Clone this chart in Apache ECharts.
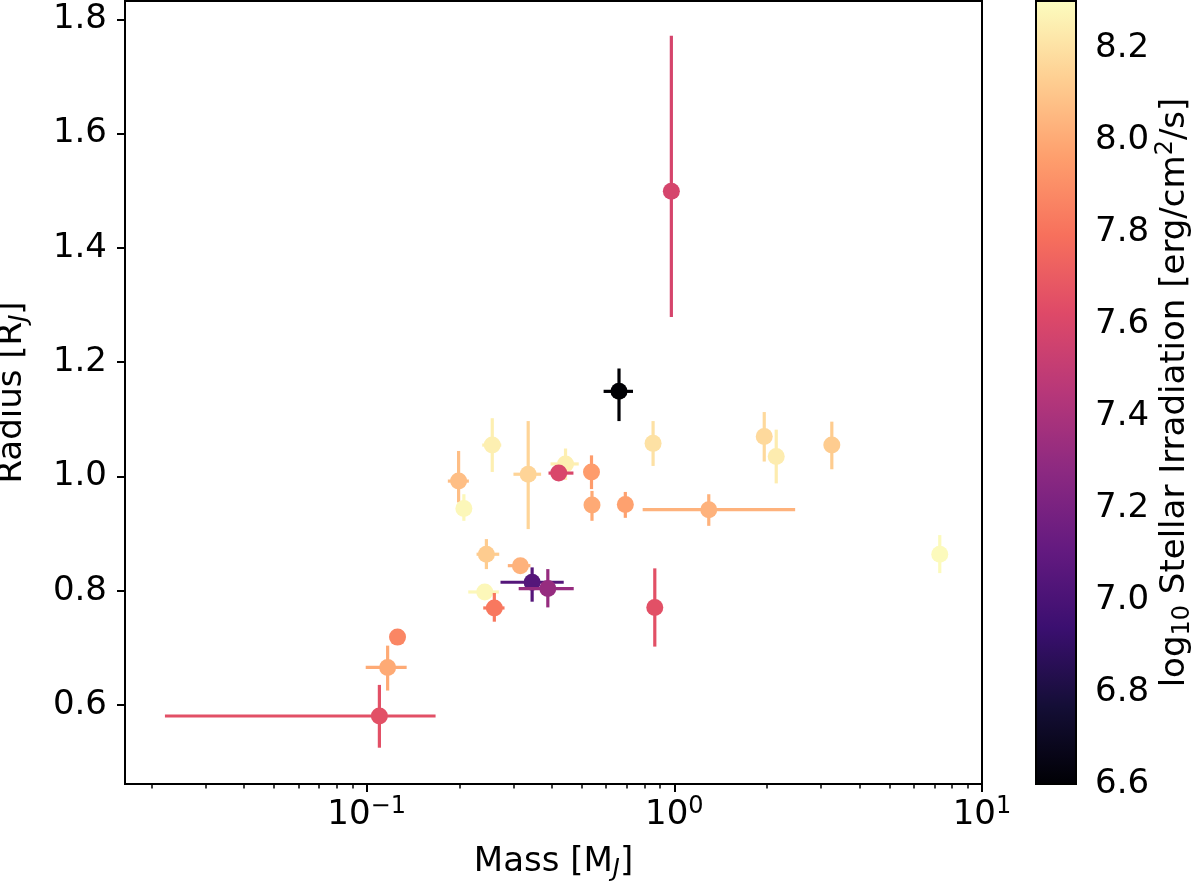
<!DOCTYPE html>
<html><head><meta charset="utf-8">
<script src="https://cdn.jsdelivr.net/npm/echarts@6/dist/echarts.min.js"></script>
<style>html,body{margin:0;padding:0;background:#fff}#c{width:1200px;height:886px}</style>
</head><body><div id="c"></div>
<script>
// ---- data ----
const mass        = [0.110, 0.117, 0.126, 0.199, 0.207, 0.245, 0.242, 0.256, 0.260, 0.316, 0.335, 0.345, 0.388, 0.443, 0.421, 0.538, 0.540, 0.693, 0.661, 0.853, 0.864, 0.978, 1.294, 1.96, 2.144, 3.25, 7.29];
const massLow     = [0.0221, 0.0993, null, 0.1836, null, 0.2276, 0.2139, 0.2375, 0.2393, 0.2876, 0.300, 0.2723, 0.312, 0.396, 0.390, null, null, null, 0.589, null, null, null, 0.789, null, null, null, null];
const massHigh    = [0.1675, 0.1349, null, 0.2149, null, 0.2697, 0.2689, 0.2738, 0.2806, 0.3406, 0.369, 0.437, 0.471, 0.489, 0.470, null, null, null, 0.734, null, null, null, 2.47, null, null, null, null];
const radius      = [0.581, 0.666, 0.719, 0.992, 0.944, 0.864, 0.798, 1.055, 0.770, 0.844, 1.004, 0.815, 0.804, 1.022, 1.006, 1.008, 0.950, 0.951, 1.149, 1.058, 0.771, 1.499, 0.942, 1.070, 1.035, 1.055, 0.864];
const radiusLow   = [0.5255, 0.6255, null, 0.9546, 0.9225, 0.838, null, 1.008, 0.746, null, 0.908, 0.781, 0.771, 0.994, null, 0.978, 0.9225, 0.9277, 1.097, 1.0185, 0.7024, 1.279, 0.9137, 1.0262, 0.988, 1.0127, 0.831];
const radiusHigh  = [0.6354, 0.7041, null, 1.0447, 0.969, 0.8905, null, 1.102, 0.7962, null, 1.097, 0.841, 0.838, 1.049, null, 1.037, 0.9748, 0.973, 1.189, 1.097, 0.8393, 1.771, 0.969, 1.1128, 1.082, 1.096, 0.8975];
const irradiation = [7.65, 8.00, 7.87, 8.07, 8.28, 8.12, 8.28, 8.25, 7.82, 8.03, 8.15, 7.05, 7.32, 8.25, 7.60, 7.95, 8.00, 7.97, 6.60, 8.20, 7.65, 7.58, 8.03, 8.17, 8.24, 8.12, 8.29];

const xTicks      = [0.1, 1, 10];
const xMinorTicks = [0.02,0.03,0.04,0.05,0.06,0.07,0.08,0.09,0.2,0.3,0.4,0.5,0.6,0.7,0.8,0.9,2,3,4,5,6,7,8,9];
const yTicks      = [0.6, 0.8, 1.0, 1.2, 1.4, 1.6, 1.8];
const cbarTicks   = [6.6, 6.8, 7.0, 7.2, 7.4, 7.6, 7.8, 8.0, 8.2];
const xRange      = [0.01639, 10];
const yRange      = [0.462, 1.832];
const cbarRange   = [6.6, 8.302];

const magma = ['#000004','#140e36','#3b0f70','#641a80','#8c2981','#b73779','#de4968','#f7705c','#fe9f6d','#fecf92','#fcfdbf'];

// ---- chart ----
const FONT = 'DejaVu Sans';
const rows = mass.map((m, i) => [m, radius[i], massLow[i], massHigh[i], radiusLow[i], radiusHigh[i], irradiation[i]]);

const rich = {
  m:   {fontFamily: FONT, fontSize: 34, color: '#000', lineHeight: 40, verticalAlign: 'middle'},
  b:   {fontFamily: FONT, fontSize: 34, color: '#000', lineHeight: 36, verticalAlign: 'bottom'},
  sup: {fontFamily: FONT, fontSize: 24, color: '#000', height: 22, verticalAlign: 'top'},
  sub: {fontFamily: FONT, fontSize: 24, color: '#000', height: 24, verticalAlign: 'bottom'},
  subi:{fontFamily: FONT, fontSize: 24, color: '#000', height: 24, verticalAlign: 'bottom', fontStyle: 'italic'}
};

function ok(v) { return v !== null && v !== undefined && isFinite(v); }

function renderPoint(params, api) {
  const x = api.value(0), y = api.value(1);
  const xl = api.value(2), xh = api.value(3), yl = api.value(4), yh = api.value(5);
  const c = api.visual('color');
  const ch = [];
  if (ok(xl) && ok(xh)) {
    const a = api.coord([xl, y]), b = api.coord([xh, y]);
    ch.push({type: 'line', shape: {x1: a[0], y1: a[1], x2: b[0], y2: b[1]}, style: {stroke: c, lineWidth: 3.2}});
  }
  if (ok(yl) && ok(yh)) {
    const a = api.coord([x, yl]), b = api.coord([x, yh]);
    ch.push({type: 'line', shape: {x1: a[0], y1: a[1], x2: b[0], y2: b[1]}, style: {stroke: c, lineWidth: 3.2}});
  }
  const p = api.coord([x, y]);
  ch.push({type: 'circle', shape: {cx: p[0], cy: p[1], r: 8.5}, style: {fill: c}});
  return {type: 'group', children: ch};
}

function renderCbar(params, api) {
  const a = api.coord([api.value(0), api.value(1)]);
  const b = api.coord([api.value(2), api.value(3)]);
  const stops = magma.map((col, i) => ({offset: i / (magma.length - 1), color: col}));
  return {
    type: 'rect',
    shape: {x: Math.min(a[0], b[0]), y: Math.min(a[1], b[1]), width: Math.abs(b[0] - a[0]), height: Math.abs(b[1] - a[1])},
    style: {fill: new echarts.graphic.LinearGradient(0, 1, 0, 0, stops), stroke: '#000', lineWidth: 2}
  };
}

const supFmt = v => {
  const e = Math.round(Math.log10(v));
  return '{b|10}{sup|' + (e < 0 ? '\u2212' : '') + Math.abs(e) + '}';
};

const option = {
  animation: false,
  backgroundColor: '#fff',
  grid: [
    {left: 125, top: 1, width: 857, height: 783, show: true, borderColor: '#000', borderWidth: 2, containLabel: false, outerBoundsMode: 'none'},
    {left: 1036, top: 1, width: 40, height: 783, containLabel: false, outerBoundsMode: 'none'}
  ],
  visualMap: {
    type: 'continuous', show: false, min: cbarRange[0], max: cbarRange[1], dimension: 6, seriesIndex: 0,
    inRange: {color: magma}
  },
  xAxis: [
    {
      type: 'log', logBase: 10, gridIndex: 0, min: xRange[0], max: xRange[1], position: 'bottom',
      name: '{m|Mass [M}{subi|J}{m|]}', nameLocation: 'middle', nameGap: 58, nameMoveOverlap: false,
      nameTextStyle: {rich: rich},
      axisLine: {show: true, lineStyle: {color: '#000', width: 2}},
      axisTick: {show: true, length: 8, lineStyle: {color: '#000', width: 2}, customValues: xTicks},
      axisLabel: {show: true, customValues: xTicks, formatter: supFmt, margin: 12, rich: rich},
      splitLine: {show: false}, minorTick: {show: false}
    },
    {
      type: 'log', logBase: 10, gridIndex: 0, min: xRange[0], max: xRange[1], position: 'bottom',
      axisLine: {show: false},
      axisTick: {show: true, length: 4.5, lineStyle: {color: '#000', width: 1.5}, customValues: xMinorTicks},
      axisLabel: {show: false},
      splitLine: {show: false}
    },
    {type: 'value', gridIndex: 1, min: 0, max: 1, show: false}
  ],
  yAxis: [
    {
      type: 'value', gridIndex: 0, min: yRange[0], max: yRange[1],
      name: '{m|Radius [R}{subi|J}{m|]}', nameLocation: 'middle', nameGap: 93, nameRotate: 90, nameMoveOverlap: false,
      nameTextStyle: {rich: rich},
      axisLine: {show: true, lineStyle: {color: '#000', width: 2}},
      axisTick: {show: true, length: 8, lineStyle: {color: '#000', width: 2}, customValues: yTicks},
      axisLabel: {show: true, customValues: yTicks, formatter: v => v.toFixed(1), margin: 18,
                  fontFamily: FONT, fontSize: 34, color: '#000'},
      splitLine: {show: false}
    },
    {
      type: 'value', gridIndex: 1, position: 'right', min: cbarRange[0], max: cbarRange[1],
      name: '{m|log}{sub|10}{m| Stellar Irradiation [erg/cm}{sup|2}{m|/s]}', nameLocation: 'middle', nameGap: 79, nameRotate: 90, nameMoveOverlap: false,
      nameTextStyle: {rich: rich},
      axisLine: {show: false},
      axisTick: {show: true, length: 8, lineStyle: {color: '#000', width: 2}, customValues: cbarTicks},
      axisLabel: {show: true, customValues: cbarTicks, formatter: v => v.toFixed(1), margin: 19,
                  fontFamily: FONT, fontSize: 34, color: '#000'},
      splitLine: {show: false}
    }
  ],
  series: [
    {
      type: 'custom', xAxisIndex: 0, yAxisIndex: 0, renderItem: renderPoint, data: rows,
      encode: {x: 0, y: 1}, clip: true
    },
    {
      type: 'custom', xAxisIndex: 2, yAxisIndex: 1, renderItem: renderCbar,
      data: [[0, cbarRange[0], 1, cbarRange[1]]], encode: {x: [0, 2], y: [1, 3]}, silent: true
    }
  ]
};

const chart = echarts.init(document.getElementById('c'));
chart.setOption(option);
</script>
</body></html>
